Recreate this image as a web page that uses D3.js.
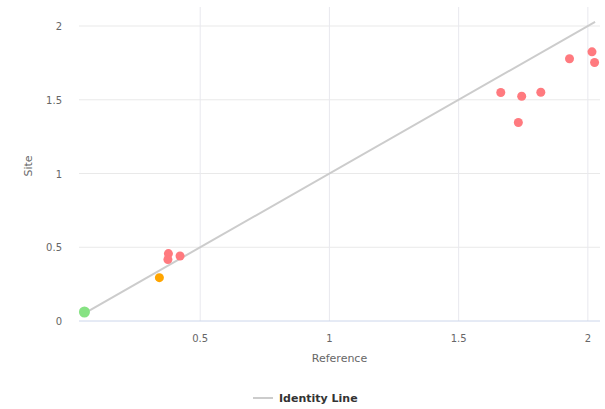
<!DOCTYPE html>
<html><head><meta charset="utf-8">
<script src="https://cdn.jsdelivr.net/npm/d3@7"></script>
<style>body{margin:0;background:#fff;} text{font-family:"DejaVu Sans",Verdana,sans-serif;}</style>
</head><body>
<svg id="chart" width="605" height="409"></svg>
<script>
const xTicks = [0.5, 1, 1.5, 2];
const yTicks = [0, 0.5, 1, 1.5, 2];
const refValues  = [1.663, 1.744, 1.818, 1.731, 1.929, 2.016, 2.026, 0.377, 0.375, 0.422, 0.342, 0.052];
const siteValues = [1.549, 1.524, 1.551, 1.346, 1.778, 1.825, 1.753, 0.457, 0.417, 0.441, 0.294, 0.061];
const groups     = ["high","high","high","high","high","high","high","high","high","high","mid","low"];
const identity = [0.052, 2.028];
const legendLabel = "Identity Line";

const colors = {high:"#ff7a7f", mid:"#ffa500", low:"#86e283"};
const radii = {high:4.5, mid:4.5, low:5.5};

const svg = d3.select("#chart");
const L = 79, R = 600, T = 7, B = 321;
const x = d3.scaleLinear().domain([0.031, 2.047]).range([L, R]);
const y = d3.scaleLinear().domain([0, 2.129]).range([B, T]);

// gridlines
svg.append("g").selectAll("line").data(yTicks.filter(d=>d>0)).join("line")
  .attr("x1", L).attr("x2", R).attr("y1", d=>y(d)).attr("y2", d=>y(d))
  .attr("stroke", "#e9e9e9").attr("stroke-width", 1);
svg.append("g").selectAll("line").data(xTicks).join("line")
  .attr("x1", d=>x(d)).attr("x2", d=>x(d)).attr("y1", T).attr("y2", B)
  .attr("stroke", "#e8e8ee").attr("stroke-width", 1);
// x axis line
svg.append("line").attr("x1", L).attr("x2", R).attr("y1", y(0)).attr("y2", y(0))
  .attr("stroke", "#ccd6eb").attr("stroke-width", 1);

// tick labels
svg.append("g").selectAll("text").data(yTicks).join("text")
  .attr("x", 62).attr("y", d=>y(d)+4).attr("text-anchor","end")
  .attr("font-size", 10).attr("fill", "#666").text(d=>d);
svg.append("g").selectAll("text").data(xTicks).join("text")
  .attr("x", d=>x(d)).attr("y", 342).attr("text-anchor","middle")
  .attr("font-size", 10).attr("fill", "#666").text(d=>d);

// axis titles
svg.append("text").attr("x", (L+R)/2).attr("y", 362).attr("text-anchor","middle")
  .attr("font-size", 11).attr("fill", "#666").text("Reference");
svg.append("text").attr("transform", `translate(32,${(T+B)/2+2}) rotate(-90)`)
  .attr("text-anchor","middle").attr("font-size", 11).attr("fill", "#666").text("Site");

// identity line
svg.append("line").attr("x1", x(identity[0])).attr("y1", y(identity[0]))
  .attr("x2", x(identity[1])).attr("y2", y(identity[1]))
  .attr("stroke", "#cccccc").attr("stroke-width", 2);

// points
svg.append("g").selectAll("circle").data(refValues.map((v,i)=>({x:v, y:siteValues[i], g:groups[i]}))).join("circle")
  .attr("cx", d=>x(d.x)).attr("cy", d=>y(d.y)).attr("r", d=>radii[d.g])
  .attr("fill", d=>colors[d.g]);

// legend
svg.append("line").attr("x1", 253).attr("x2", 273).attr("y1", 398).attr("y2", 398)
  .attr("stroke", "#cccccc").attr("stroke-width", 2);
svg.append("text").attr("x", 279).attr("y", 402).attr("font-size", 11)
  .attr("font-weight", "bold").attr("fill", "#333").text(legendLabel);
</script>
</body></html>
